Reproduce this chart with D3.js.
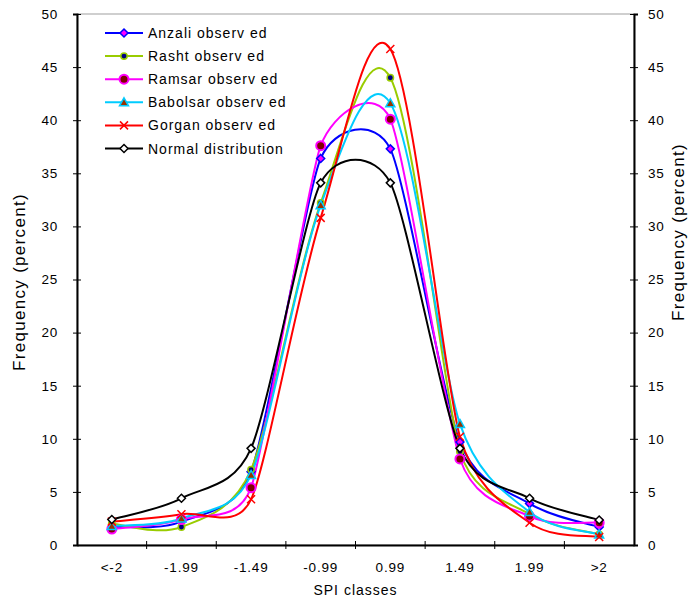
<!DOCTYPE html>
<html>
<head>
<meta charset="utf-8">
<script src="https://cdn.jsdelivr.net/npm/d3@7/dist/d3.min.js"></script>
<style>
  body { margin: 0; background: #fff; }
  svg { display: block; font-family: "Liberation Sans", Arial, sans-serif; }
</style>
</head>
<body>
<svg id="chart" width="688" height="600"></svg>
<script>
// SPI classes
const categories = ["<-2", "-1.99", "-1.49", "-0.99", "0.99", "1.49", "1.99", ">2"];
const yTicks = [0, 5, 10, 15, 20, 25, 30, 35, 40, 45, 50];

// frequency (percent) per station
const anzali   = [1.7, 2.2, 6.9, 36.4, 37.3, 9.7, 3.9, 1.7];
const rasht    = [2.0, 1.7, 7.1, 32.2, 44.0, 8.8, 2.9, 1.0];
const ramsar   = [1.5, 2.4, 5.4, 37.6, 40.1, 8.1, 2.7, 2.1];
const babolsar = [1.8, 2.5, 6.6, 32.0, 41.6, 11.4, 3.1, 1.0];
const gorgan   = [2.2, 2.9, 4.3, 30.8, 46.7, 10.2, 2.1, 0.75];
const normal   = [2.4, 4.4, 9.1, 34.1, 34.1, 9.1, 4.4, 2.35];

const series = [
  { name: "Anzali observ ed",    values: anzali,   color: "#0000ff", marker: "diamond",  fill: "#ff00ff" },
  { name: "Rasht observ ed",     values: rasht,    color: "#99cc00", marker: "dot",      fill: "#000080" },
  { name: "Ramsar observ ed",    values: ramsar,   color: "#ff00ff", marker: "circle",   fill: "#800000" },
  { name: "Babolsar observ ed",  values: babolsar, color: "#00ccff", marker: "triangle", fill: "#993300" },
  { name: "Gorgan observ ed",    values: gorgan,   color: "#ff0000", marker: "cross",    fill: "none" },
  { name: "Normal distribution", values: normal,   color: "#000000", marker: "diamond",  fill: "#ffffff" }
];

const svg = d3.select("#chart");
const plot = { left: 77, right: 634, top: 14, bottom: 545 };

const x = d3.scaleBand().domain(categories).range([plot.left, plot.right]);
const y = d3.scaleLinear().domain([0, 50]).range([plot.bottom, plot.top]);
const cx = c => x(c) + x.bandwidth() / 2;

// Excel-style smoothing: bezier arms of 1/6 of the neighbour chord,
// limited to half of the shorter adjacent segment
function excelSmooth(context) {
  let pts;
  return {
    areaStart() {}, areaEnd() {},
    lineStart() { pts = []; },
    point(px, py) { pts.push([+px, +py]); },
    lineEnd() {
      const n = pts.length;
      if (!n) return;
      context.moveTo(pts[0][0], pts[0][1]);
      const arms = pts.map((p, i) => {
        const p0 = pts[Math.max(i - 1, 0)], p2 = pts[Math.min(i + 1, n - 1)];
        const dx = p2[0] - p0[0], dy = p2[1] - p0[1];
        const d02 = Math.hypot(dx, dy);
        let f = 1 / 6;
        if (i > 0 && i < n - 1 && d02 > 0) {
          const d01 = Math.hypot(p[0] - p0[0], p[1] - p0[1]);
          const d12 = Math.hypot(p2[0] - p[0], p2[1] - p[1]);
          f = Math.min(f, d01 / (2 * d02), d12 / (2 * d02));
        }
        return [dx * f, dy * f];
      });
      for (let i = 0; i < n - 1; i++) {
        const a = pts[i], b = pts[i + 1];
        context.bezierCurveTo(a[0] + arms[i][0], a[1] + arms[i][1],
          b[0] - arms[i + 1][0], b[1] - arms[i + 1][1], b[0], b[1]);
      }
    }
  };
}

// plot area border (light grey)
svg.append("rect")
  .attr("x", plot.left).attr("y", plot.top)
  .attr("width", plot.right - plot.left).attr("height", plot.bottom - plot.top)
  .attr("fill", "none").attr("stroke", "#a0a0a0").attr("stroke-width", 1);

// left axis
const leftAxis = svg.append("g")
  .attr("transform", `translate(${plot.left},0)`)
  .call(d3.axisLeft(y).tickValues(yTicks).tickSize(4).tickPadding(15));
leftAxis.selectAll(".tick line").attr("x2", -4).attr("x1", 4);

// right axis
const rightAxis = svg.append("g")
  .attr("transform", `translate(${plot.right},0)`)
  .call(d3.axisRight(y).tickValues(yTicks).tickSize(4).tickPadding(10));
rightAxis.selectAll(".tick line").attr("x1", -4).attr("x2", 4);

// bottom axis: labels centred on categories, ticks on band edges
const bottomAxis = svg.append("g")
  .attr("transform", `translate(0,${plot.bottom})`)
  .call(d3.axisBottom(x).tickSize(0).tickPadding(17));
const edges = categories.map(c => x(c) + x.bandwidth()).slice(0, -1);
bottomAxis.selectAll(".edge")
  .data(edges)
  .enter().append("line")
  .attr("x1", d => d).attr("x2", d => d)
  .attr("y1", -4).attr("y2", 4)
  .attr("stroke", "#000");

[leftAxis, rightAxis, bottomAxis].forEach(g => {
  g.select(".domain").attr("stroke", "#000").attr("stroke-width", 2);
  g.selectAll(".tick line").attr("stroke", "#000");
  g.selectAll("text").attr("font-size", 13.5).attr("fill", "#000").attr("letter-spacing", 0.8)
    .attr("font-family", "'Liberation Sans', Arial, sans-serif");
});

// axis titles
svg.append("text")
  .attr("x", (plot.left + plot.right) / 2).attr("y", 595)
  .attr("text-anchor", "middle").attr("font-size", 14).attr("letter-spacing", 1)
  .text("SPI classes");
svg.append("text")
  .attr("transform", `translate(25,282) rotate(-90)`)
  .attr("text-anchor", "middle").attr("font-size", 17).attr("letter-spacing", 1.3)
  .text("Frequency (percent)");
svg.append("text")
  .attr("transform", `translate(684,232) rotate(-90)`)
  .attr("text-anchor", "middle").attr("font-size", 17).attr("letter-spacing", 1.3)
  .text("Frequency (percent)");

// smoothed lines
const line = d3.line()
  .x((d, i) => cx(categories[i]))
  .y(d => y(d))
  .curve(excelSmooth);

const lines = svg.append("g");
series.forEach(s => {
  lines.append("path")
    .datum(s.values)
    .attr("d", line)
    .attr("fill", "none")
    .attr("stroke", s.color)
    .attr("stroke-width", 2);
});

function drawMarker(g, s, px, py) {
  if (s.marker === "diamond") {
    g.append("path")
      .attr("d", `M${px},${py - 4}L${px + 4},${py}L${px},${py + 4}L${px - 4},${py}Z`)
      .attr("fill", s.fill).attr("stroke", s.color).attr("stroke-width", 1.5);
  } else if (s.marker === "dot") {
    g.append("circle").attr("cx", px).attr("cy", py).attr("r", 3.2)
      .attr("fill", s.fill).attr("stroke", s.color).attr("stroke-width", 1.5);
  } else if (s.marker === "circle") {
    g.append("circle").attr("cx", px).attr("cy", py).attr("r", 4.5)
      .attr("fill", s.fill).attr("stroke", s.color).attr("stroke-width", 2);
  } else if (s.marker === "triangle") {
    g.append("path")
      .attr("d", `M${px},${py - 4.5}L${px + 4.5},${py + 3.5}L${px - 4.5},${py + 3.5}Z`)
      .attr("fill", s.fill).attr("stroke", s.color).attr("stroke-width", 1.5);
  } else if (s.marker === "cross") {
    g.append("path")
      .attr("d", `M${px - 4},${py - 4}L${px + 4},${py + 4}M${px + 4},${py - 4}L${px - 4},${py + 4}`)
      .attr("stroke", s.color).attr("stroke-width", 1.5);
  }
}

const markers = svg.append("g");
series.forEach(s => {
  s.values.forEach((v, i) => drawMarker(markers, s, cx(categories[i]), y(v)));
});

// legend
const legend = svg.append("g");
series.forEach((s, i) => {
  const ly = 33 + i * 23.1;
  legend.append("line")
    .attr("x1", 105).attr("x2", 143).attr("y1", ly).attr("y2", ly)
    .attr("stroke", s.color).attr("stroke-width", 2);
  drawMarker(legend, s, 124, ly);
  legend.append("text")
    .attr("x", 148).attr("y", ly + 5)
    .attr("font-size", 14).attr("letter-spacing", 1)
    .text(s.name);
});
</script>
</body>
</html>
